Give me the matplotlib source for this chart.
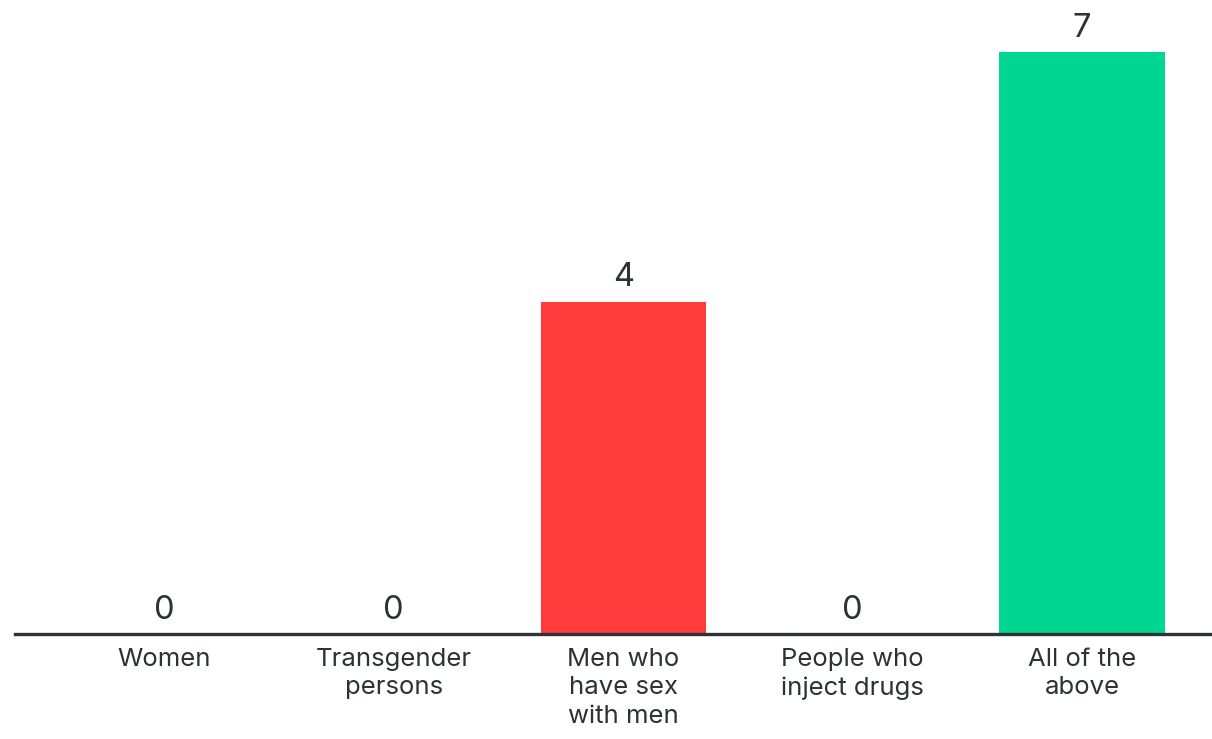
import matplotlib.pyplot as plt
import numpy as np

categories = ["Women", "Transgender\npersons", "Men who\nhave sex\nwith men",
              "People who\ninject drugs", "All of the\nabove"]
counts = [0, 0, 4, 0, 7]
bar_colors = ["#FF3B3B", "#FF3B3B", "#FF3B3B", "#FF3B3B", "#00D68F"]

TEXT = "#2D3236"
plt.rcParams["font.family"] = ["Inter", "DejaVu Sans"]

fig = plt.figure(figsize=(12.12, 7.39), dpi=100)
W, H = 1212, 739
ax = fig.add_axes([15 / W, (H - 634) / H, (W - 15) / W, 634 / H])

x = np.arange(len(categories))
ax.bar(x, counts, width=0.72, color=bar_colors, zorder=2)
for xi, v in zip(x, counts):
    ax.annotate(f"{v}", (xi, v), xytext=(0, 11), textcoords="offset points",
                ha="center", va="baseline", fontsize=23.5, color=TEXT)

ax.set_xlim(-0.65, 4.566)
ax.set_ylim(0, 7.63)
ax.set_yticks([])
ax.set_xticks(x)
ax.set_xticklabels(categories, fontsize=18.5, color=TEXT, linespacing=1.3)
ax.tick_params(axis="x", length=0, pad=10)
for side in ("top", "right", "left"):
    ax.spines[side].set_visible(False)
ax.spines["bottom"].set_linewidth(2.4)
ax.spines["bottom"].set_color(TEXT)
ax.spines["bottom"].set_zorder(3)

fig.savefig("out.png", dpi=100, facecolor="white")
